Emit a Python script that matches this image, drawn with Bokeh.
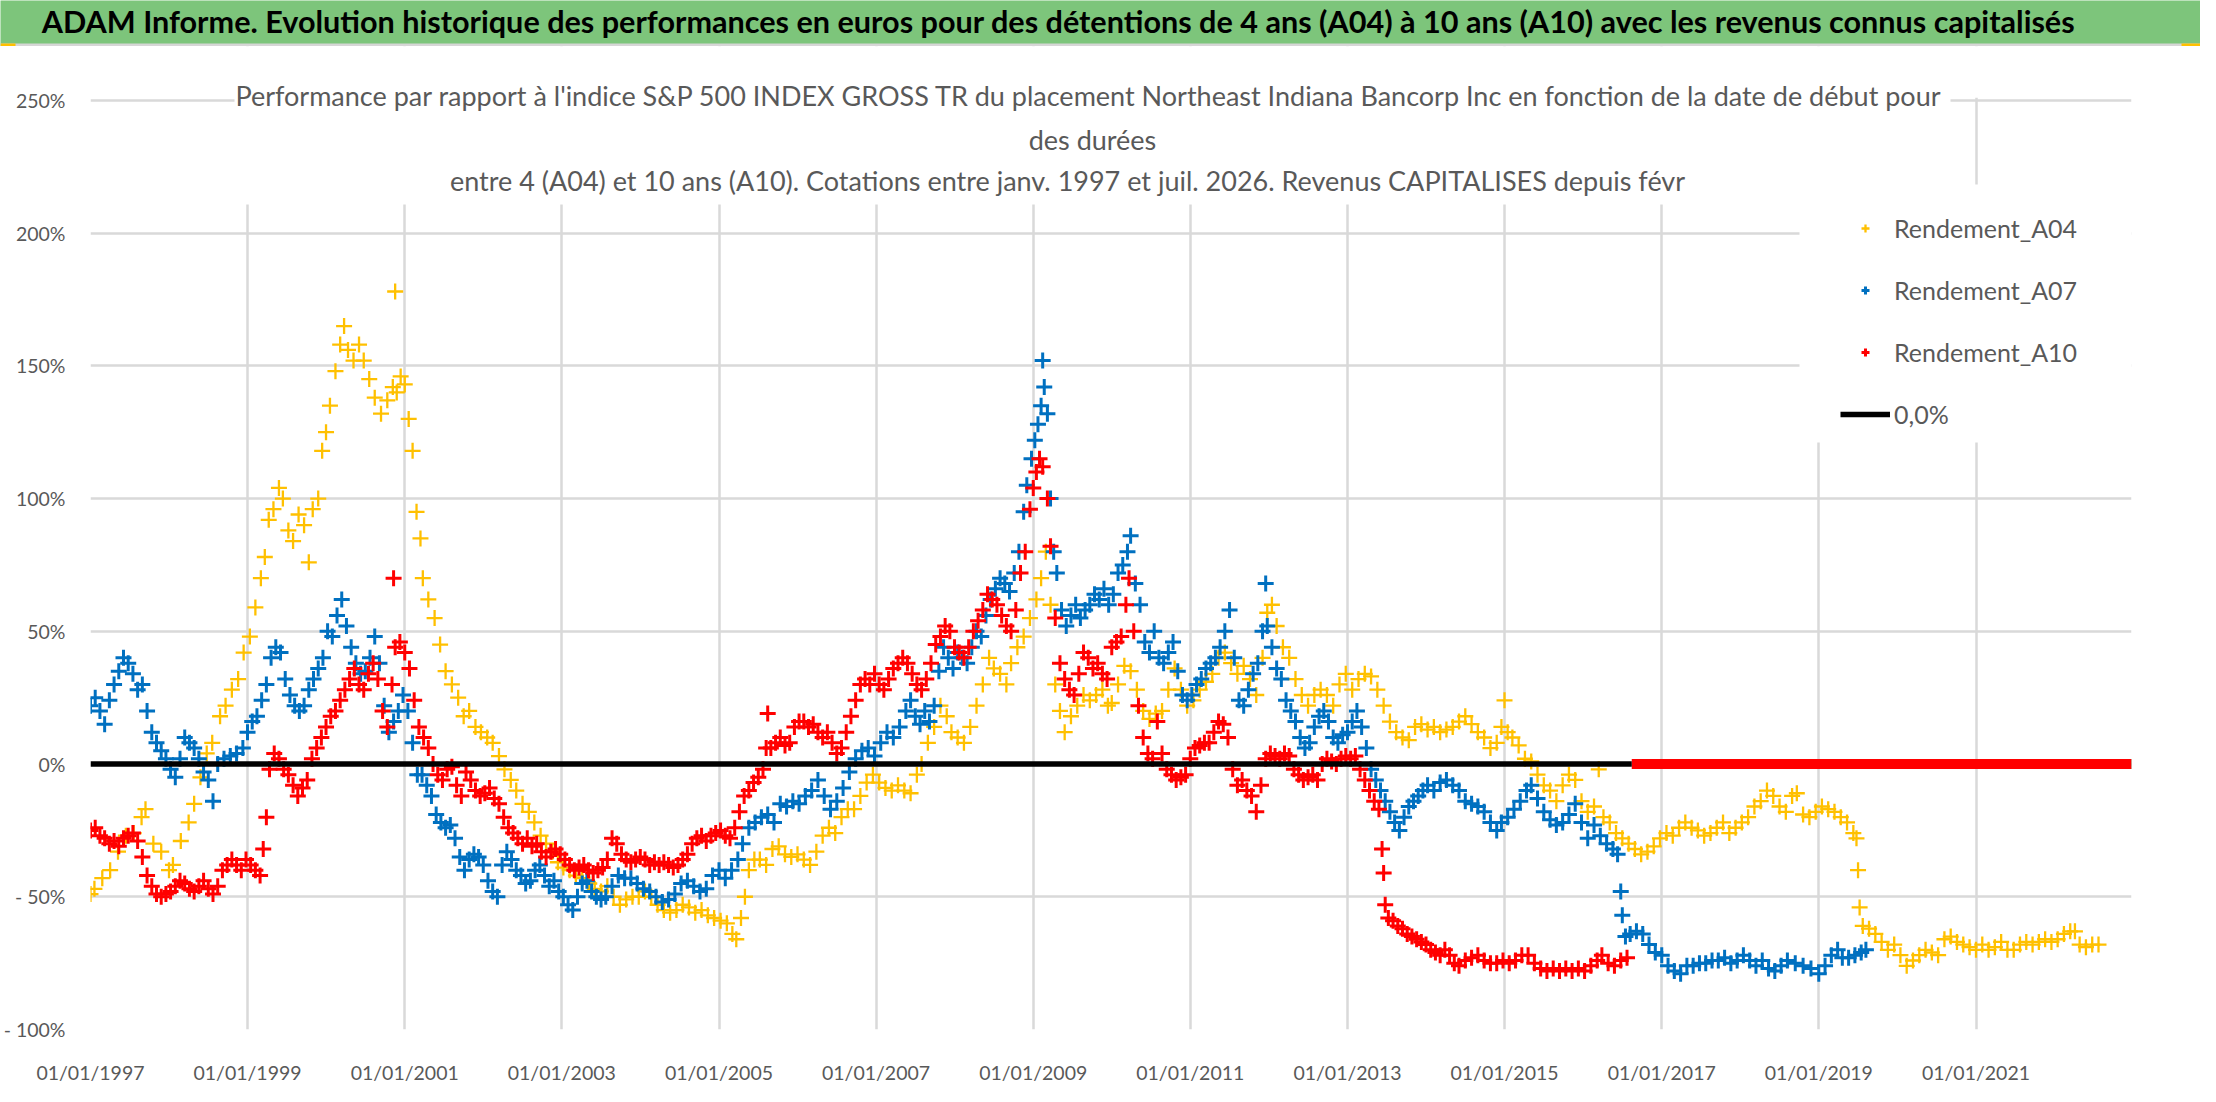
from datetime import datetime, timedelta

from bokeh.plotting import figure
from bokeh.layouts import column
from bokeh.models import (FixedTicker, DatetimeTickFormatter, BoxAnnotation, Label,
                          Legend, LegendItem)
from bokeh.embed import file_html
from bokeh.resources import INLINE

FONT = "Lato"
GREY = "#595959"

titre = ("ADAM Informe. Evolution historique des performances en euros pour des "
         "détentions de 4 ans (A04) à 10 ans (A10) avec les revenus connus capitalisés")
sous_titre = [
    "Performance par rapport à l'indice S&P 500 INDEX GROSS TR  du placement Northeast "
    "Indiana Bancorp Inc en fonction de la date de début pour",
    "des durées",
    "entre 4 (A04) et 10 ans (A10). Cotations entre janv. 1997 et juil. 2026. "
    "Revenus CAPITALISES depuis févr",
]
noms = ["Rendement_A04", "Rendement_A07", "Rendement_A10", "0,0%"]
couleurs = ["#FFC000", "#0070C0", "#FF0000", "black"]

y_ticks = [-100, -50, 0, 50, 100, 150, 200, 250]
y_labels = ["- 100%", "- 50%", "0%", "50%", "100%", "150%", "200%", "250%"]
x_tick_years = [1997, 1999, 2001, 2003, 2005, 2007, 2009, 2011, 2013, 2015, 2017, 2019, 2021]

debut_axe = 1997.0
fin_axe = 2022.98

# (date en année décimale, performance en %)
a04 = [
    (1997.00, -49), (1997.05, -47), (1997.15, -43), (1997.25, -40), (1997.35, -33),
    (1997.45, -27), (1997.55, -26), (1997.65, -20), (1997.70, -17), (1997.80, -30),
    (1997.90, -33), (1998.00, -40), (1998.05, -38), (1998.15, -29), (1998.25, -22),
    (1998.32, -15), (1998.40, -5), (1998.48, 4), (1998.55, 8), (1998.65, 18),
    (1998.72, 22), (1998.80, 28), (1998.88, 32), (1998.95, 42), (1999.03, 48),
    (1999.10, 59), (1999.17, 70), (1999.22, 78), (1999.27, 92), (1999.33, 96),
    (1999.40, 104), (1999.45, 100), (1999.52, 88), (1999.58, 84), (1999.65, 94),
    (1999.72, 90), (1999.78, 76), (1999.83, 96), (1999.90, 100), (1999.95, 118),
    (2000.00, 125), (2000.05, 135), (2000.12, 148), (2000.18, 158), (2000.23, 165),
    (2000.28, 156), (2000.35, 152), (2000.42, 158), (2000.48, 152), (2000.55, 145),
    (2000.62, 138), (2000.70, 132), (2000.78, 137), (2000.85, 142), (2000.88, 178),
    (2000.90, 140), (2000.95, 146), (2001.00, 143), (2001.05, 130), (2001.10, 118),
    (2001.15, 95), (2001.20, 85), (2001.23, 70), (2001.30, 62), (2001.38, 55),
    (2001.45, 45), (2001.52, 35), (2001.60, 30), (2001.68, 25), (2001.75, 18),
    (2001.82, 20), (2001.90, 14), (2001.97, 12), (2002.05, 10), (2002.12, 8),
    (2002.20, 3), (2002.27, -2), (2002.35, -6), (2002.42, -10), (2002.50, -15),
    (2002.58, -18), (2002.65, -22), (2002.73, -27), (2002.80, -30), (2002.88, -33),
    (2002.95, -37), (2003.02, -39), (2003.10, -40), (2003.18, -42), (2003.26, -43),
    (2003.35, -45), (2003.42, -47), (2003.50, -48), (2003.58, -46), (2003.66, -50),
    (2003.74, -53), (2003.82, -51), (2003.90, -50), (2003.98, -50), (2004.06, -48),
    (2004.14, -50), (2004.22, -53), (2004.30, -55), (2004.38, -56), (2004.46, -55),
    (2004.54, -53), (2004.62, -54), (2004.70, -56), (2004.78, -55), (2004.86, -57),
    (2004.94, -58), (2005.02, -59), (2005.10, -60), (2005.17, -64), (2005.22, -66),
    (2005.28, -58), (2005.33, -50), (2005.38, -40), (2005.45, -36), (2005.52, -36),
    (2005.60, -38), (2005.68, -32), (2005.76, -31), (2005.84, -34), (2005.92, -35),
    (2006.00, -34), (2006.08, -36), (2006.16, -38), (2006.24, -33), (2006.32, -27),
    (2006.40, -24), (2006.48, -26), (2006.56, -20), (2006.64, -17), (2006.72, -17),
    (2006.80, -12), (2006.88, -7), (2006.96, -4), (2007.04, -7), (2007.12, -9),
    (2007.20, -10), (2007.28, -8), (2007.36, -10), (2007.44, -11), (2007.52, -4),
    (2007.58, 0), (2007.66, 8), (2007.74, 14), (2007.82, 22), (2007.90, 18),
    (2007.96, 12), (2008.04, 10), (2008.12, 8), (2008.20, 14), (2008.28, 22),
    (2008.36, 30), (2008.44, 40), (2008.50, 36), (2008.58, 34), (2008.66, 30),
    (2008.72, 38), (2008.80, 44), (2008.88, 48), (2008.96, 55), (2009.04, 62),
    (2009.10, 70), (2009.16, 80), (2009.22, 60), (2009.28, 30), (2009.34, 20),
    (2009.40, 12), (2009.48, 18), (2009.56, 22), (2009.64, 26), (2009.72, 24),
    (2009.80, 26), (2009.88, 28), (2009.95, 22), (2010.00, 23), (2010.08, 30),
    (2010.16, 37), (2010.24, 35), (2010.32, 28), (2010.40, 20), (2010.48, 17),
    (2010.56, 19), (2010.64, 20), (2010.72, 28), (2010.80, 36), (2010.88, 28),
    (2010.96, 22), (2011.04, 24), (2011.12, 28), (2011.20, 31), (2011.28, 34),
    (2011.36, 40), (2011.44, 42), (2011.52, 38), (2011.60, 34), (2011.68, 37),
    (2011.76, 32), (2011.84, 26), (2011.92, 40), (2011.98, 57), (2012.04, 60),
    (2012.10, 52), (2012.18, 44), (2012.26, 40), (2012.34, 32), (2012.42, 26),
    (2012.50, 22), (2012.58, 26), (2012.66, 28), (2012.74, 26), (2012.82, 22),
    (2012.90, 30), (2012.98, 34), (2013.06, 28), (2013.14, 32), (2013.22, 34),
    (2013.30, 33), (2013.38, 28), (2013.46, 22), (2013.54, 16), (2013.62, 12),
    (2013.70, 10), (2013.78, 9), (2013.86, 14), (2013.94, 15), (2014.02, 13),
    (2014.10, 14), (2014.18, 12), (2014.26, 13), (2014.34, 14), (2014.42, 16),
    (2014.50, 18), (2014.58, 15), (2014.66, 12), (2014.74, 10), (2014.82, 6),
    (2014.90, 8), (2014.96, 14), (2015.00, 24), (2015.04, 12), (2015.10, 10),
    (2015.18, 7), (2015.26, 2), (2015.34, 1), (2015.42, -4), (2015.50, -8),
    (2015.58, -10), (2015.66, -14), (2015.74, -8), (2015.82, -4), (2015.90, -6),
    (2015.98, -14), (2016.06, -18), (2016.14, -16), (2016.20, -2), (2016.26, -20),
    (2016.34, -22), (2016.42, -26), (2016.50, -28), (2016.58, -30), (2016.66, -32),
    (2016.74, -34), (2016.82, -33), (2016.90, -31), (2016.98, -28), (2017.06, -26),
    (2017.14, -27), (2017.22, -24), (2017.30, -22), (2017.38, -24), (2017.46, -25),
    (2017.54, -27), (2017.62, -26), (2017.70, -24), (2017.78, -22), (2017.86, -26),
    (2017.94, -24), (2018.02, -22), (2018.10, -20), (2018.18, -16), (2018.26, -14),
    (2018.34, -10), (2018.42, -12), (2018.50, -16), (2018.58, -18), (2018.66, -12),
    (2018.72, -11), (2018.80, -19), (2018.88, -20), (2018.96, -18), (2019.04, -16),
    (2019.12, -17), (2019.20, -18), (2019.28, -20), (2019.36, -22), (2019.44, -26),
    (2019.48, -28), (2019.50, -40), (2019.52, -54), (2019.56, -61), (2019.64, -62),
    (2019.72, -64), (2019.80, -67), (2019.88, -70), (2019.96, -68), (2020.04, -72),
    (2020.12, -76), (2020.20, -74), (2020.28, -72), (2020.36, -70), (2020.44, -71),
    (2020.52, -72), (2020.60, -66), (2020.68, -65), (2020.76, -67), (2020.84, -68),
    (2020.92, -69), (2021.00, -70), (2021.08, -68), (2021.16, -70), (2021.24, -69),
    (2021.32, -67), (2021.40, -70), (2021.48, -70), (2021.56, -68), (2021.64, -67),
    (2021.72, -68), (2021.80, -67), (2021.88, -66), (2021.96, -67), (2022.04, -66),
    (2022.12, -64), (2022.20, -63), (2022.26, -63), (2022.32, -68), (2022.40, -69),
    (2022.48, -68), (2022.56, -68),
]

a07 = [
    (1997.00, 22), (1997.06, 25), (1997.12, 20), (1997.18, 15), (1997.24, 24),
    (1997.30, 30), (1997.36, 35), (1997.42, 40), (1997.48, 38), (1997.54, 34),
    (1997.60, 28), (1997.66, 30), (1997.72, 20), (1997.78, 12), (1997.84, 8),
    (1997.90, 5), (1997.96, 2), (1998.02, -2), (1998.08, -5), (1998.14, 2),
    (1998.20, 10), (1998.26, 8), (1998.32, 6), (1998.38, 2), (1998.44, -3),
    (1998.50, -6), (1998.56, -14), (1998.62, 0), (1998.70, 2), (1998.78, 3),
    (1998.86, 4), (1998.94, 6), (1999.00, 12), (1999.06, 16), (1999.12, 18),
    (1999.18, 24), (1999.24, 30), (1999.30, 40), (1999.36, 44), (1999.42, 42),
    (1999.48, 32), (1999.54, 26), (1999.60, 22), (1999.66, 20), (1999.72, 22),
    (1999.78, 28), (1999.84, 32), (1999.90, 36), (1999.96, 40), (2000.02, 50),
    (2000.08, 48), (2000.14, 56), (2000.20, 62), (2000.26, 52), (2000.32, 44),
    (2000.38, 38), (2000.44, 34), (2000.50, 35), (2000.56, 40), (2000.62, 48),
    (2000.68, 38), (2000.74, 22), (2000.80, 12), (2000.86, 16), (2000.92, 20),
    (2000.98, 26), (2001.04, 20), (2001.10, 8), (2001.16, -4), (2001.22, -4),
    (2001.28, -8), (2001.34, -12), (2001.40, -19), (2001.46, -22), (2001.52, -24),
    (2001.58, -23), (2001.64, -28), (2001.70, -35), (2001.76, -40), (2001.82, -36),
    (2001.88, -34), (2001.94, -35), (2002.00, -38), (2002.06, -44), (2002.12, -48),
    (2002.18, -50), (2002.24, -38), (2002.30, -33), (2002.36, -36), (2002.42, -40),
    (2002.48, -42), (2002.54, -45), (2002.60, -44), (2002.66, -40), (2002.72, -38),
    (2002.78, -42), (2002.84, -46), (2002.90, -44), (2002.96, -48), (2003.02, -50),
    (2003.08, -53), (2003.14, -55), (2003.20, -50), (2003.26, -45), (2003.32, -44),
    (2003.38, -48), (2003.44, -50), (2003.50, -51), (2003.56, -50), (2003.64, -46),
    (2003.72, -42), (2003.80, -43), (2003.88, -43), (2003.96, -45), (2004.04, -47),
    (2004.12, -48), (2004.20, -50), (2004.28, -52), (2004.36, -51), (2004.44, -49),
    (2004.52, -45), (2004.60, -44), (2004.68, -46), (2004.76, -48), (2004.84, -47),
    (2004.92, -42), (2005.00, -40), (2005.08, -43), (2005.16, -40), (2005.24, -36),
    (2005.30, -30), (2005.38, -24), (2005.46, -22), (2005.54, -20), (2005.62, -19),
    (2005.70, -22), (2005.78, -15), (2005.86, -16), (2005.94, -14), (2006.02, -15),
    (2006.10, -12), (2006.18, -10), (2006.26, -6), (2006.34, -12), (2006.42, -17),
    (2006.50, -14), (2006.58, -9), (2006.66, -3), (2006.74, 2), (2006.82, 5),
    (2006.90, 6), (2006.98, 3), (2007.06, 8), (2007.14, 12), (2007.22, 10),
    (2007.30, 14), (2007.38, 20), (2007.44, 24), (2007.50, 18), (2007.56, 15),
    (2007.62, 20), (2007.68, 16), (2007.74, 22), (2007.80, 35), (2007.86, 44),
    (2007.92, 40), (2007.98, 36), (2008.04, 42), (2008.10, 40), (2008.16, 38),
    (2008.22, 44), (2008.28, 50), (2008.34, 48), (2008.40, 56), (2008.46, 62),
    (2008.52, 66), (2008.58, 70), (2008.64, 68), (2008.70, 65), (2008.76, 72),
    (2008.82, 80), (2008.88, 95), (2008.92, 105), (2008.98, 115), (2009.02, 122),
    (2009.06, 128), (2009.10, 135), (2009.12, 152), (2009.14, 142), (2009.18, 132),
    (2009.22, 100), (2009.26, 80), (2009.30, 72), (2009.36, 58), (2009.42, 52),
    (2009.48, 56), (2009.54, 60), (2009.60, 55), (2009.66, 58), (2009.72, 60),
    (2009.78, 64), (2009.84, 62), (2009.90, 66), (2009.96, 60), (2010.02, 64),
    (2010.08, 72), (2010.14, 75), (2010.20, 80), (2010.24, 86), (2010.30, 68),
    (2010.36, 60), (2010.42, 46), (2010.48, 42), (2010.54, 50), (2010.60, 40),
    (2010.66, 38), (2010.72, 42), (2010.78, 46), (2010.84, 35), (2010.90, 26),
    (2010.96, 24), (2011.02, 26), (2011.08, 30), (2011.14, 32), (2011.20, 36),
    (2011.26, 38), (2011.32, 40), (2011.38, 44), (2011.44, 50), (2011.50, 58),
    (2011.56, 40), (2011.62, 24), (2011.68, 22), (2011.74, 28), (2011.80, 34),
    (2011.86, 38), (2011.92, 50), (2011.96, 68), (2011.98, 52), (2012.04, 44),
    (2012.10, 36), (2012.16, 32), (2012.22, 24), (2012.28, 20), (2012.34, 16),
    (2012.40, 10), (2012.46, 6), (2012.52, 8), (2012.58, 14), (2012.64, 18),
    (2012.70, 20), (2012.76, 16), (2012.82, 10), (2012.88, 8), (2012.94, 11),
    (2013.00, 12), (2013.06, 16), (2013.12, 20), (2013.18, 14), (2013.24, 6),
    (2013.30, -2), (2013.36, -6), (2013.42, -10), (2013.48, -14), (2013.54, -18),
    (2013.60, -22), (2013.66, -25), (2013.72, -20), (2013.78, -16), (2013.84, -14),
    (2013.90, -12), (2013.96, -10), (2014.02, -8), (2014.10, -10), (2014.18, -7),
    (2014.26, -6), (2014.34, -8), (2014.42, -10), (2014.50, -14), (2014.58, -15),
    (2014.66, -16), (2014.74, -18), (2014.82, -22), (2014.90, -25), (2014.96, -22),
    (2015.04, -20), (2015.12, -17), (2015.20, -14), (2015.28, -10), (2015.34, -8),
    (2015.42, -13), (2015.50, -18), (2015.58, -21), (2015.66, -23), (2015.74, -22),
    (2015.82, -19), (2015.90, -15), (2015.98, -22), (2016.06, -28), (2016.14, -23),
    (2016.22, -27), (2016.30, -30), (2016.38, -32), (2016.44, -34), (2016.48, -48),
    (2016.50, -57), (2016.54, -65), (2016.60, -64), (2016.68, -63), (2016.76, -64),
    (2016.84, -68), (2016.92, -71), (2017.00, -72), (2017.08, -76), (2017.16, -78),
    (2017.24, -79), (2017.32, -76), (2017.40, -76), (2017.48, -75), (2017.56, -75),
    (2017.64, -74), (2017.72, -74), (2017.80, -73), (2017.88, -75), (2017.96, -74),
    (2018.04, -72), (2018.12, -74), (2018.20, -76), (2018.28, -74), (2018.36, -77),
    (2018.44, -78), (2018.52, -76), (2018.60, -74), (2018.70, -75), (2018.80, -76),
    (2018.90, -77), (2019.00, -79), (2019.08, -76), (2019.16, -72), (2019.24, -70),
    (2019.30, -73), (2019.38, -73), (2019.46, -72), (2019.54, -71), (2019.60, -70),
]

a10 = [
    (1997.00, -25), (1997.06, -24), (1997.12, -27), (1997.18, -28), (1997.24, -30),
    (1997.30, -29), (1997.36, -31), (1997.42, -28), (1997.48, -27), (1997.54, -26),
    (1997.60, -29), (1997.66, -35), (1997.72, -42), (1997.78, -46), (1997.84, -49),
    (1997.90, -50), (1997.96, -49), (1998.02, -48), (1998.08, -46), (1998.14, -44),
    (1998.20, -45), (1998.26, -47), (1998.32, -48), (1998.38, -46), (1998.44, -44),
    (1998.50, -47), (1998.56, -49), (1998.62, -46), (1998.68, -40), (1998.74, -38),
    (1998.80, -36), (1998.86, -38), (1998.92, -40), (1998.98, -36), (1999.04, -38),
    (1999.10, -40), (1999.16, -42), (1999.20, -32), (1999.24, -20), (1999.28, -2),
    (1999.34, 4), (1999.40, 2), (1999.46, -2), (1999.52, -4), (1999.58, -8),
    (1999.64, -12), (1999.70, -9), (1999.76, -6), (1999.82, 2), (1999.88, 6),
    (1999.94, 10), (2000.00, 14), (2000.06, 18), (2000.12, 20), (2000.18, 24),
    (2000.24, 28), (2000.30, 32), (2000.36, 36), (2000.42, 30), (2000.48, 28),
    (2000.54, 34), (2000.60, 38), (2000.66, 32), (2000.72, 20), (2000.78, 14),
    (2000.84, 30), (2000.86, 70), (2000.88, 44), (2000.94, 46), (2001.00, 42),
    (2001.06, 36), (2001.12, 24), (2001.18, 14), (2001.24, 10), (2001.30, 6),
    (2001.36, 0), (2001.42, -4), (2001.48, -6), (2001.54, -2), (2001.60, -1),
    (2001.66, -8), (2001.72, -12), (2001.78, -3), (2001.84, -6), (2001.90, -10),
    (2001.96, -12), (2002.02, -11), (2002.08, -9), (2002.14, -13), (2002.20, -15),
    (2002.26, -20), (2002.32, -24), (2002.38, -26), (2002.44, -28), (2002.50, -30),
    (2002.56, -28), (2002.62, -31), (2002.68, -30), (2002.74, -33), (2002.80, -35),
    (2002.86, -33), (2002.92, -32), (2002.98, -34), (2003.04, -36), (2003.10, -38),
    (2003.16, -40), (2003.22, -39), (2003.28, -38), (2003.34, -40), (2003.40, -41),
    (2003.46, -40), (2003.52, -39), (2003.58, -36), (2003.64, -28), (2003.70, -30),
    (2003.76, -34), (2003.82, -36), (2003.88, -37), (2003.94, -36), (2004.00, -35),
    (2004.06, -36), (2004.12, -38), (2004.18, -37), (2004.24, -38), (2004.30, -37),
    (2004.36, -38), (2004.42, -39), (2004.48, -38), (2004.54, -36), (2004.60, -34),
    (2004.66, -30), (2004.72, -28), (2004.78, -27), (2004.84, -29), (2004.90, -27),
    (2004.96, -26), (2005.02, -25), (2005.08, -27), (2005.14, -28), (2005.20, -24),
    (2005.26, -18), (2005.32, -12), (2005.38, -10), (2005.44, -7), (2005.50, -5),
    (2005.56, -2), (2005.60, 6), (2005.62, 19), (2005.66, 6), (2005.72, 8),
    (2005.78, 10), (2005.84, 7), (2005.90, 8), (2005.96, 14), (2006.02, 16),
    (2006.08, 16), (2006.14, 14), (2006.20, 15), (2006.26, 12), (2006.32, 10),
    (2006.38, 12), (2006.44, 8), (2006.50, 4), (2006.56, 6), (2006.62, 12),
    (2006.68, 18), (2006.74, 24), (2006.80, 30), (2006.86, 32), (2006.92, 30),
    (2006.98, 34), (2007.04, 30), (2007.10, 28), (2007.16, 32), (2007.22, 36),
    (2007.28, 38), (2007.34, 40), (2007.40, 38), (2007.46, 34), (2007.52, 30),
    (2007.58, 28), (2007.64, 32), (2007.70, 38), (2007.76, 45), (2007.82, 48),
    (2007.88, 52), (2007.94, 50), (2008.00, 44), (2008.06, 42), (2008.12, 40),
    (2008.18, 44), (2008.24, 50), (2008.30, 54), (2008.36, 58), (2008.42, 64),
    (2008.48, 62), (2008.54, 60), (2008.60, 56), (2008.66, 52), (2008.72, 50),
    (2008.78, 58), (2008.84, 72), (2008.90, 80), (2008.96, 96), (2009.00, 104),
    (2009.04, 110), (2009.08, 115), (2009.12, 112), (2009.18, 100), (2009.22, 82),
    (2009.28, 55), (2009.34, 38), (2009.40, 32), (2009.46, 28), (2009.52, 26),
    (2009.58, 34), (2009.64, 42), (2009.70, 40), (2009.76, 36), (2009.82, 38),
    (2009.88, 34), (2009.94, 32), (2010.00, 44), (2010.06, 46), (2010.12, 48),
    (2010.18, 60), (2010.22, 70), (2010.28, 50), (2010.34, 22), (2010.40, 10),
    (2010.46, 4), (2010.52, 2), (2010.58, 16), (2010.64, 4), (2010.70, -2),
    (2010.76, -4), (2010.82, -6), (2010.88, -5), (2010.94, -4), (2011.00, 2),
    (2011.06, 6), (2011.12, 7), (2011.18, 8), (2011.24, 8), (2011.30, 12),
    (2011.36, 16), (2011.42, 15), (2011.48, 10), (2011.54, -2), (2011.60, -8),
    (2011.66, -6), (2011.72, -10), (2011.78, -12), (2011.84, -18), (2011.90, -8),
    (2011.96, 2), (2012.02, 4), (2012.08, 3), (2012.14, 2), (2012.20, 4),
    (2012.26, 3), (2012.32, -2), (2012.38, -4), (2012.44, -6), (2012.50, -5),
    (2012.56, -4), (2012.62, -6), (2012.68, 0), (2012.74, 2), (2012.80, 1),
    (2012.86, 0), (2012.92, 2), (2012.98, 3), (2013.04, 2), (2013.10, 3),
    (2013.16, -2), (2013.22, -6), (2013.28, -10), (2013.34, -14), (2013.40, -17),
    (2013.44, -32), (2013.46, -41), (2013.48, -53), (2013.52, -58), (2013.58, -59),
    (2013.64, -61), (2013.70, -62), (2013.76, -64), (2013.82, -65), (2013.88, -66),
    (2013.94, -67), (2014.00, -68), (2014.06, -70), (2014.12, -71), (2014.18, -72),
    (2014.24, -70), (2014.30, -72), (2014.36, -75), (2014.42, -76), (2014.50, -74),
    (2014.58, -73), (2014.66, -72), (2014.74, -74), (2014.82, -75), (2014.90, -75),
    (2014.98, -74), (2015.06, -75), (2015.14, -74), (2015.22, -72), (2015.30, -72),
    (2015.38, -75), (2015.46, -77), (2015.54, -78), (2015.62, -77), (2015.70, -78),
    (2015.78, -77), (2015.86, -78), (2015.94, -77), (2016.02, -78), (2016.10, -76),
    (2016.18, -74), (2016.24, -72), (2016.32, -75), (2016.40, -76), (2016.48, -74),
    (2016.56, -73),
]

# après la dernière valeur connue, chaque série reste à 0 jusqu'au bout de l'axe
zero_debut = {"A04": 2022.60, "A07": 2019.62, "A10": 2016.62}
fin_ligne_zero = 2016.62


def dt(y):
    an = int(y)
    return datetime(an, 1, 1) + timedelta(days=(y - an) * 365.25)


def split(serie):
    return [dt(t) for t, _ in serie], [v for _, v in serie]


def boite(l, r, t, b, couleur, units="canvas"):
    return BoxAnnotation(left=l, right=r, top=t, bottom=b, left_units=units,
                         right_units=units, top_units=units, bottom_units=units,
                         fill_color=couleur, fill_alpha=1, line_color=None)


# bandeau vert du haut
h = figure(width=2200, height=46, x_range=(0, 2200), y_range=(0, 46),
           output_backend="svg", toolbar_location=None, min_border=0,
           x_axis_location=None, y_axis_location=None)
h.frame_align = False
h.grid.visible = False
h.outline_line_color = None
h.background_fill_color = "#7DC57B"
h.border_fill_color = "#7DC57B"
h.add_layout(boite(0, 2200, 3, 0, "#D6D6D6", "data"))
h.add_layout(boite(0, 15, 3, 0, "#FFC000", "data"))
h.add_layout(boite(2181, 2200, 3, 0, "#FFC000", "data"))
h.add_layout(Label(x=1058, y=25, text=titre, text_font=FONT, text_font_size="30.6px",
                   text_font_style="bold", text_color="black",
                   text_align="center", text_baseline="middle"))

# graphique
p = figure(width=2200, height=1040, x_axis_type="datetime",
           x_range=(dt(debut_axe), dt(fin_axe)), y_range=(-100, 270.3),
           output_backend="svg", toolbar_location=None,
           min_border_left=90, min_border_right=69, min_border_top=0, min_border_bottom=56)
p.frame_align = False
p.outline_line_color = None
p.background_fill_color = "white"
p.border_fill_color = "white"

p.xaxis.ticker = FixedTicker(ticks=[dt(a).timestamp() * 1000 for a in x_tick_years])
p.xaxis.formatter = DatetimeTickFormatter(years="%d/%m/%Y", months="%d/%m/%Y",
                                          days="%d/%m/%Y", hours="%d/%m/%Y")
p.yaxis.ticker = FixedTicker(ticks=y_ticks)
p.yaxis.major_label_overrides = dict(zip(y_ticks, y_labels))
for ax in (p.xaxis, p.yaxis):
    ax.axis_line_color = None
    ax.major_tick_line_color = None
    ax.minor_tick_line_color = None
    ax.major_label_text_font = FONT
    ax.major_label_text_color = GREY
p.xaxis.major_label_text_font_size = "19.5px"
p.yaxis.major_label_text_font_size = "19.5px"
p.xaxis.major_label_standoff = 25
p.yaxis.major_label_standoff = 19
p.xgrid.ticker = p.xaxis.ticker
p.ygrid.ticker = p.yaxis.ticker
for g in (p.xgrid, p.ygrid):
    g.grid_line_color = "#D9D9D9"
    g.grid_line_width = 2.5

r04 = p.scatter(*split(a04), marker="cross", size=16, line_color=couleurs[0], line_width=2.3)
r07 = p.scatter(*split(a07), marker="cross", size=16, line_color=couleurs[1], line_width=3)
r10 = p.scatter(*split(a10), marker="cross", size=16, line_color=couleurs[2], line_width=3)
for k, c in zip(["A04", "A07", "A10"], couleurs[:3]):
    p.line([dt(zero_debut[k]), dt(fin_axe)], [0, 0], line_color=c, line_width=10)
rz = p.line([dt(debut_axe), dt(fin_ligne_zero)], [0, 0], line_color="black", line_width=5.5)

# au-dessus de 250 % : zone blanche ; fonds blancs du titre et de la légende
p.add_layout(BoxAnnotation(bottom=251, fill_color="white", fill_alpha=1, line_color=None))
p.add_layout(boite(234, 1950, 26, 158, "white"))
p.add_layout(boite(1799, 2131, 138, 396, "white"))

for txt, yy, xx in zip(sous_titre, [49, 93, 134], [1092, 1092, 1067]):
    p.add_layout(Label(x=xx, y=yy, x_units="canvas", y_units="canvas", text=txt,
                       text_font=FONT, text_font_size="27px", text_color=GREY,
                       text_align="center", text_baseline="middle"))

legend = Legend(items=[LegendItem(label=n, renderers=[r]) for n, r in zip(noms, [r04, r07, r10, rz])],
                location=(1750, 600), margin=0, padding=10, spacing=32,
                glyph_width=50, glyph_height=20, label_standoff=4,
                label_text_font=FONT, label_text_font_size="25px", label_text_color=GREY,
                border_line_color=None, background_fill_color="white", background_fill_alpha=1)
p.add_layout(legend)

open("out.html", "w").write(file_html(column(h, p, spacing=0), INLINE))
